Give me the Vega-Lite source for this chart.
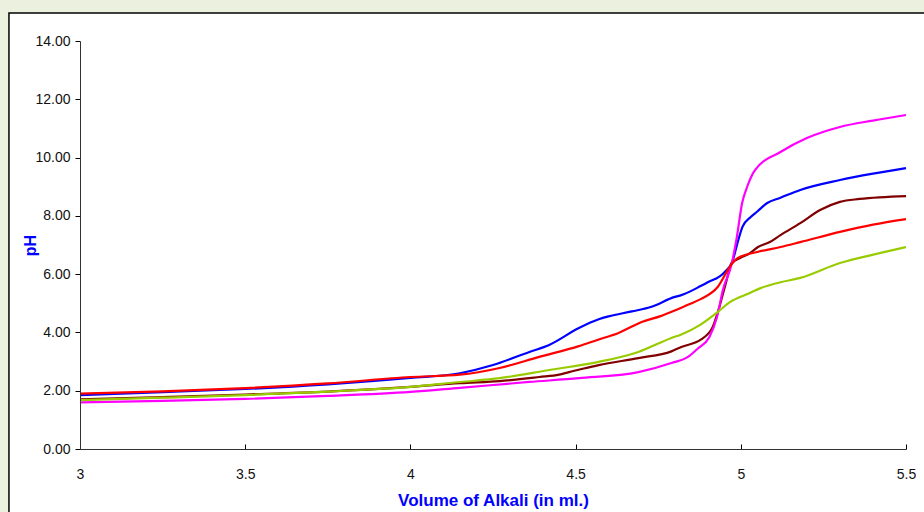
{
  "$schema": "https://vega.github.io/schema/vega-lite/v6.json",
  "width": 826,
  "height": 408,
  "autosize": {"type": "none"},
  "padding": {"left": 80, "top": 41, "right": 18, "bottom": 63},
  "background": "#EBF1DE",
  "config": {"view": {"stroke": null}, "font": "Liberation Sans"},
  "datasets": {
    "curves": [
      {"series": "Series1", "volume": 3.0, "pH": 1.85},
      {"series": "Series1", "volume": 3.25, "pH": 1.95},
      {"series": "Series1", "volume": 3.5, "pH": 2.06},
      {"series": "Series1", "volume": 3.75, "pH": 2.22},
      {"series": "Series1", "volume": 4.0, "pH": 2.44},
      {"series": "Series1", "volume": 4.15, "pH": 2.6},
      {"series": "Series1", "volume": 4.25, "pH": 2.88},
      {"series": "Series1", "volume": 4.36, "pH": 3.33},
      {"series": "Series1", "volume": 4.42, "pH": 3.57},
      {"series": "Series1", "volume": 4.51, "pH": 4.15},
      {"series": "Series1", "volume": 4.57, "pH": 4.45},
      {"series": "Series1", "volume": 4.6, "pH": 4.55},
      {"series": "Series1", "volume": 4.67, "pH": 4.72},
      {"series": "Series1", "volume": 4.73, "pH": 4.88},
      {"series": "Series1", "volume": 4.8, "pH": 5.22},
      {"series": "Series1", "volume": 4.82, "pH": 5.28},
      {"series": "Series1", "volume": 4.88, "pH": 5.6},
      {"series": "Series1", "volume": 4.9, "pH": 5.72},
      {"series": "Series1", "volume": 4.95, "pH": 6.06},
      {"series": "Series1", "volume": 4.975, "pH": 6.45},
      {"series": "Series1", "volume": 4.99, "pH": 7.07},
      {"series": "Series1", "volume": 5.005, "pH": 7.62},
      {"series": "Series1", "volume": 5.03, "pH": 7.96},
      {"series": "Series1", "volume": 5.05, "pH": 8.15},
      {"series": "Series1", "volume": 5.08, "pH": 8.44},
      {"series": "Series1", "volume": 5.12, "pH": 8.62},
      {"series": "Series1", "volume": 5.18, "pH": 8.89},
      {"series": "Series1", "volume": 5.3, "pH": 9.23},
      {"series": "Series1", "volume": 5.4, "pH": 9.45},
      {"series": "Series1", "volume": 5.5, "pH": 9.64},

      {"series": "Series2", "volume": 3.0, "pH": 1.7},
      {"series": "Series2", "volume": 3.25, "pH": 1.78},
      {"series": "Series2", "volume": 3.5, "pH": 1.87},
      {"series": "Series2", "volume": 3.75, "pH": 1.97},
      {"series": "Series2", "volume": 4.0, "pH": 2.13},
      {"series": "Series2", "volume": 4.15, "pH": 2.26},
      {"series": "Series2", "volume": 4.27, "pH": 2.33},
      {"series": "Series2", "volume": 4.39, "pH": 2.47},
      {"series": "Series2", "volume": 4.45, "pH": 2.55},
      {"series": "Series2", "volume": 4.48, "pH": 2.64},
      {"series": "Series2", "volume": 4.52, "pH": 2.75},
      {"series": "Series2", "volume": 4.57, "pH": 2.88},
      {"series": "Series2", "volume": 4.69, "pH": 3.12},
      {"series": "Series2", "volume": 4.79, "pH": 3.35},
      {"series": "Series2", "volume": 4.82, "pH": 3.5},
      {"series": "Series2", "volume": 4.88, "pH": 3.76},
      {"series": "Series2", "volume": 4.915, "pH": 4.19},
      {"series": "Series2", "volume": 4.935, "pH": 4.87},
      {"series": "Series2", "volume": 4.955, "pH": 5.7},
      {"series": "Series2", "volume": 4.973, "pH": 6.38},
      {"series": "Series2", "volume": 4.998, "pH": 6.55},
      {"series": "Series2", "volume": 5.028, "pH": 6.72},
      {"series": "Series2", "volume": 5.052, "pH": 6.93},
      {"series": "Series2", "volume": 5.088, "pH": 7.1},
      {"series": "Series2", "volume": 5.12, "pH": 7.34},
      {"series": "Series2", "volume": 5.18, "pH": 7.75},
      {"series": "Series2", "volume": 5.24, "pH": 8.2},
      {"series": "Series2", "volume": 5.3, "pH": 8.48},
      {"series": "Series2", "volume": 5.36, "pH": 8.58},
      {"series": "Series2", "volume": 5.5, "pH": 8.68},

      {"series": "Series3", "volume": 3.0, "pH": 1.6},
      {"series": "Series3", "volume": 3.25, "pH": 1.65},
      {"series": "Series3", "volume": 3.5, "pH": 1.72},
      {"series": "Series3", "volume": 3.75, "pH": 1.82},
      {"series": "Series3", "volume": 4.0, "pH": 1.96},
      {"series": "Series3", "volume": 4.15, "pH": 2.1},
      {"series": "Series3", "volume": 4.36, "pH": 2.3},
      {"series": "Series3", "volume": 4.51, "pH": 2.43},
      {"series": "Series3", "volume": 4.69, "pH": 2.64},
      {"series": "Series3", "volume": 4.79, "pH": 2.95},
      {"series": "Series3", "volume": 4.84, "pH": 3.16},
      {"series": "Series3", "volume": 4.87, "pH": 3.45},
      {"series": "Series3", "volume": 4.905, "pH": 3.84},
      {"series": "Series3", "volume": 4.928, "pH": 4.53},
      {"series": "Series3", "volume": 4.946, "pH": 5.46},
      {"series": "Series3", "volume": 4.973, "pH": 6.38},
      {"series": "Series3", "volume": 4.988, "pH": 7.27},
      {"series": "Series3", "volume": 5.004, "pH": 8.44},
      {"series": "Series3", "volume": 5.019, "pH": 8.99},
      {"series": "Series3", "volume": 5.043, "pH": 9.57},
      {"series": "Series3", "volume": 5.12, "pH": 10.19},
      {"series": "Series3", "volume": 5.2, "pH": 10.67},
      {"series": "Series3", "volume": 5.3, "pH": 11.05},
      {"series": "Series3", "volume": 5.4, "pH": 11.27},
      {"series": "Series3", "volume": 5.5, "pH": 11.46},

      {"series": "Series4", "volume": 3.0, "pH": 1.68},
      {"series": "Series4", "volume": 3.25, "pH": 1.76},
      {"series": "Series4", "volume": 3.5, "pH": 1.85},
      {"series": "Series4", "volume": 3.75, "pH": 1.97},
      {"series": "Series4", "volume": 4.0, "pH": 2.13},
      {"series": "Series4", "volume": 4.15, "pH": 2.3},
      {"series": "Series4", "volume": 4.27, "pH": 2.43},
      {"series": "Series4", "volume": 4.42, "pH": 2.71},
      {"series": "Series4", "volume": 4.57, "pH": 2.99},
      {"series": "Series4", "volume": 4.69, "pH": 3.33},
      {"series": "Series4", "volume": 4.79, "pH": 3.81},
      {"series": "Series4", "volume": 4.82, "pH": 3.93},
      {"series": "Series4", "volume": 4.877, "pH": 4.26},
      {"series": "Series4", "volume": 4.93, "pH": 4.7},
      {"series": "Series4", "volume": 4.967, "pH": 5.04},
      {"series": "Series4", "volume": 5.02, "pH": 5.32},
      {"series": "Series4", "volume": 5.06, "pH": 5.52},
      {"series": "Series4", "volume": 5.12, "pH": 5.72},
      {"series": "Series4", "volume": 5.18, "pH": 5.87},
      {"series": "Series4", "volume": 5.3, "pH": 6.38},
      {"series": "Series4", "volume": 5.42, "pH": 6.72},
      {"series": "Series4", "volume": 5.5, "pH": 6.93},

      {"series": "Series5", "volume": 3.0, "pH": 1.9},
      {"series": "Series5", "volume": 3.25, "pH": 1.98},
      {"series": "Series5", "volume": 3.5, "pH": 2.09},
      {"series": "Series5", "volume": 3.75, "pH": 2.25},
      {"series": "Series5", "volume": 4.0, "pH": 2.47},
      {"series": "Series5", "volume": 4.15, "pH": 2.55},
      {"series": "Series5", "volume": 4.27, "pH": 2.78},
      {"series": "Series5", "volume": 4.39, "pH": 3.16},
      {"series": "Series5", "volume": 4.51, "pH": 3.53},
      {"series": "Series5", "volume": 4.57, "pH": 3.76},
      {"series": "Series5", "volume": 4.63, "pH": 3.98},
      {"series": "Series5", "volume": 4.7, "pH": 4.36},
      {"series": "Series5", "volume": 4.755, "pH": 4.55},
      {"series": "Series5", "volume": 4.8, "pH": 4.75},
      {"series": "Series5", "volume": 4.84, "pH": 4.95},
      {"series": "Series5", "volume": 4.88, "pH": 5.15},
      {"series": "Series5", "volume": 4.93, "pH": 5.56},
      {"series": "Series5", "volume": 4.97, "pH": 6.31},
      {"series": "Series5", "volume": 4.99, "pH": 6.55},
      {"series": "Series5", "volume": 5.05, "pH": 6.76},
      {"series": "Series5", "volume": 5.12, "pH": 6.93},
      {"series": "Series5", "volume": 5.18, "pH": 7.1},
      {"series": "Series5", "volume": 5.3, "pH": 7.45},
      {"series": "Series5", "volume": 5.4, "pH": 7.7},
      {"series": "Series5", "volume": 5.5, "pH": 7.89}
    ]
  },
  "layer": [
    {
      "data": {"values": [{}]},
      "mark": {"type": "rect", "fill": "white", "stroke": "black", "strokeWidth": 1.5},
      "encoding": {
        "x": {"datum": 2.785, "type": "quantitative", "scale": {"domain": [3, 5.5], "nice": false, "zero": false}},
        "x2": {"datum": 5.6},
        "y": {"datum": 14.96, "type": "quantitative", "scale": {"domain": [0, 14], "nice": false, "zero": false}},
        "y2": {"datum": -3}
      }
    },
    {
      "data": {"name": "curves"},
      "mark": {"type": "line", "strokeWidth": 2.2, "interpolate": "monotone"},
      "encoding": {
        "x": {
          "field": "volume", "type": "quantitative",
          "scale": {"domain": [3, 5.5], "nice": false, "zero": false},
          "axis": {
            "title": "Volume of Alkali (in ml.)",
            "values": [3, 3.5, 4, 4.5, 5, 5.5],
            "format": "~g",
            "grid": false,
            "labelFlush": false,
            "tickSize": -5,
            "tickColor": "#000000",
            "domainColor": "#333333",
            "labelPadding": 23,
            "labelFontSize": 14,
            "labelColor": "#111111",
            "titleColor": "#0000FF",
            "titleFontSize": 17,
            "titleFontWeight": "bold",
            "titleY": 51,
            "titleBaseline": "middle",
            "zindex": 1
          }
        },
        "y": {
          "field": "pH", "type": "quantitative",
          "scale": {"domain": [0, 14], "nice": false, "zero": false},
          "axis": {
            "title": "pH",
            "values": [0, 2, 4, 6, 8, 10, 12, 14],
            "format": ".2f",
            "grid": false,
            "tickSize": 5,
            "tickColor": "#000000",
            "domainColor": "#333333",
            "labelPadding": 5,
            "labelFontSize": 14,
            "labelColor": "#111111",
            "titleColor": "#0000FF",
            "titleFontSize": 16,
            "titleFontWeight": "bold",
            "titleX": -50,
            "titleBaseline": "middle",
            "zindex": 1
          }
        },
        "color": {
          "field": "series", "type": "nominal", "legend": null,
          "scale": {
            "domain": ["Series1", "Series2", "Series3", "Series4", "Series5"],
            "range": ["#0000FF", "#800000", "#FF00FF", "#99CC00", "#FF0000"]
          }
        }
      }
    }
  ]
}
